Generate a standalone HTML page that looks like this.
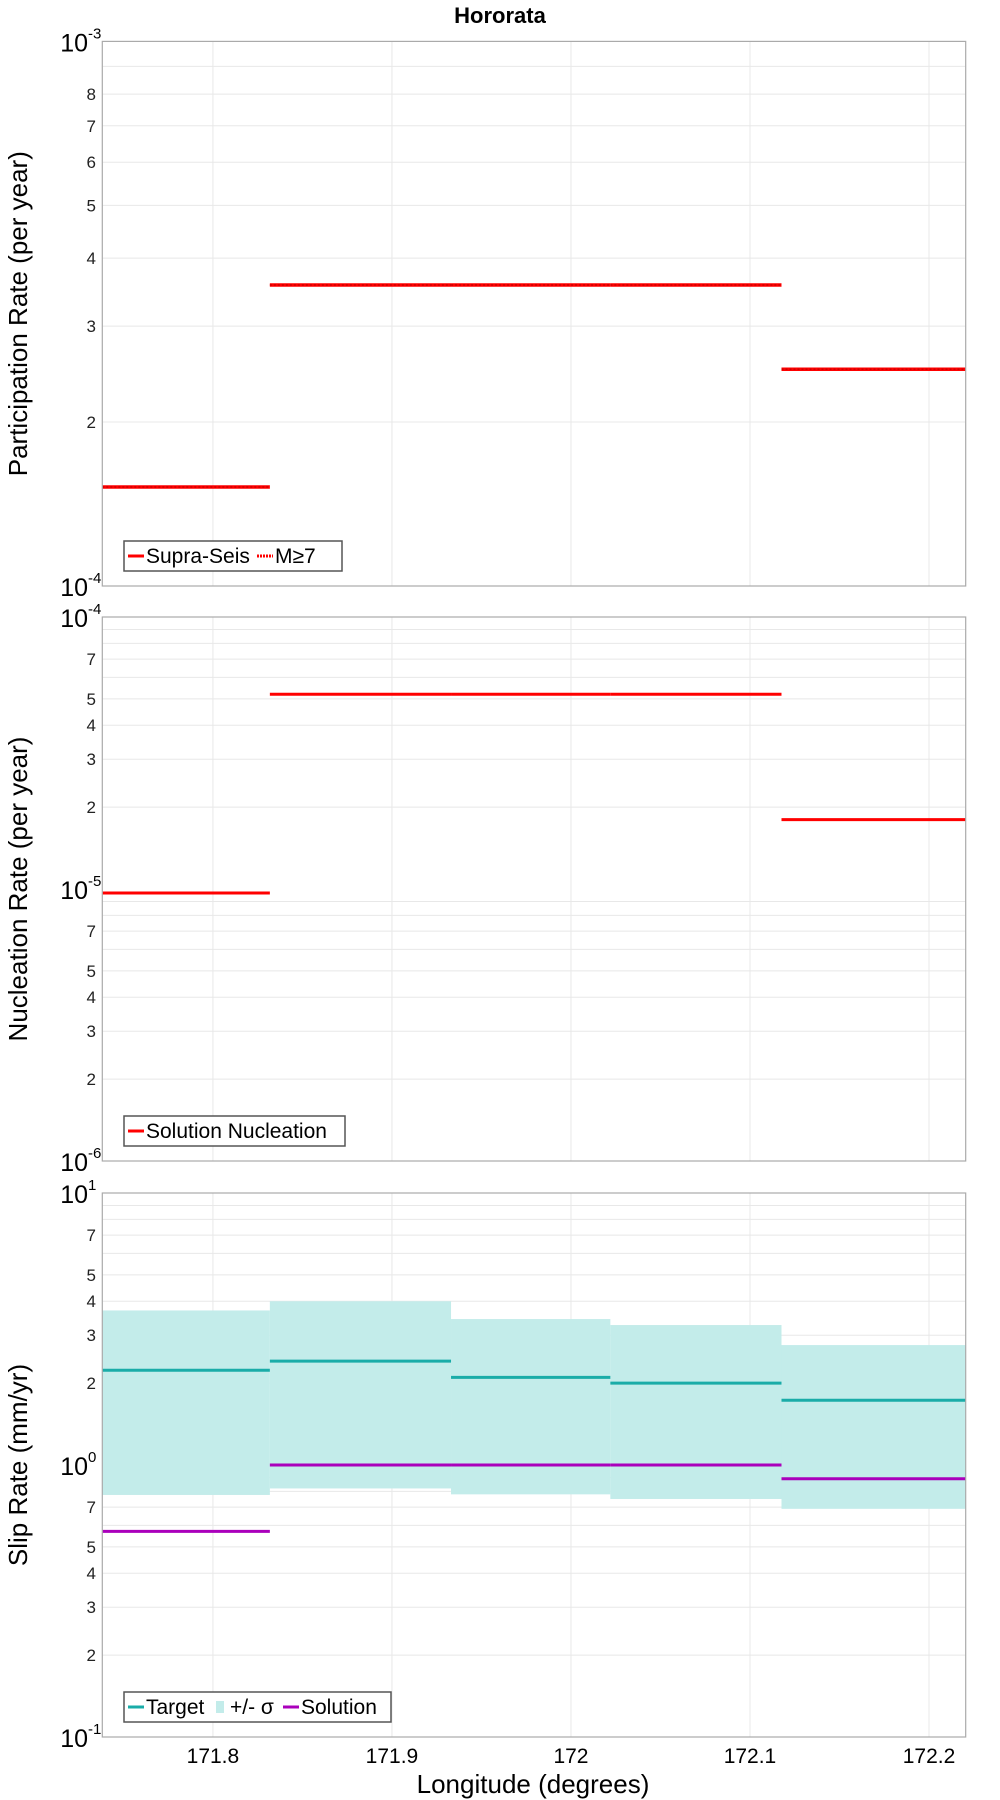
<!DOCTYPE html>
<html><head><meta charset="utf-8"><style>
html,body{margin:0;padding:0;background:#fff;}
svg{display:block;font-family:"Liberation Sans","DejaVu Sans",sans-serif;}
</style></head><body>
<svg id="chart" width="1000" height="1800" viewBox="0 0 1000 1800" xmlns="http://www.w3.org/2000/svg">
<text x="500" y="23" text-anchor="middle" font-size="22" font-weight="bold">Hororata</text>
<text x="533" y="1793" text-anchor="middle" font-size="26">Longitude (degrees)</text>
</svg>
<script>
const segEdges = [171.7382, 171.8318, 171.933, 172.022, 172.1176, 172.2205];
const xTicks = [171.8, 171.9, 172.0, 172.1, 172.2];
const xTickLabels = ["171.8", "171.9", "172", "172.1", "172.2"];
const partSupra = [1.52e-4, 3.57e-4, 3.57e-4, 3.57e-4, 2.50e-4];
const partM7 = [1.52e-4, 3.57e-4, 3.57e-4, 3.57e-4, 2.50e-4];
const nuclSol = [9.67e-6, 5.2e-5, 5.2e-5, 5.2e-5, 1.8e-5];
const slipTarget = [2.23, 2.41, 2.10, 2.0, 1.73];
const slipUpper = [3.7, 4.0, 3.44, 3.27, 2.76];
const slipLower = [0.776, 0.82, 0.78, 0.75, 0.69];
const slipSol = [0.57, 1.0, 1.0, 1.0, 0.89];

const NS = "http://www.w3.org/2000/svg";
const svg = document.getElementById("chart");
const L = 102.3, R = 965.7;
const xMin = segEdges[0], xMax = segEdges[segEdges.length-1];
function X(v){ return L + (v - xMin) / (xMax - xMin) * (R - L); }
function mk(tag, attrs, parent){ const e = document.createElementNS(NS, tag); for (const k in attrs) e.setAttribute(k, attrs[k]); (parent||svg).appendChild(e); return e; }

function panel(cfg){
  const g = mk("g", {});
  
  
  const Y = v => cfg.bot - (Math.log10(v) - cfg.lo) / (cfg.hi - cfg.lo) * (cfg.bot - cfg.top);
  for (let d = cfg.lo; d < cfg.hi; d++) {
    for (let m = 2; m <= 9; m++) {
      const y = Y(m * Math.pow(10, d));
      const gl = mk("line", {x1:L, x2:R, y1:y, y2:y, stroke:"#e8e8e8", "stroke-width":1}, g);
      
      
      if (cfg.minorLabels.includes(m)) {
        const t = mk("text", {x:96, y:y+6, "text-anchor":"end", "font-size":17, fill:"#222"}, g);
        
        
        t.textContent = String(m);
      }
    }
  }
  for (let d = cfg.lo; d <= cfg.hi; d++) {
    const y = Y(Math.pow(10, d));
    const t = mk("text", {x:88, y:y+10, "text-anchor":"end", "font-size":25}, g);
    
    
    t.textContent = "10";
    const s = mk("text", {x:88, y:y-3, "text-anchor":"start", "font-size":15}, g);
    
    
    s.textContent = String(d);
  }
  xTicks.forEach((v) => {
    const gl = mk("line", {x1:X(v), x2:X(v), y1:cfg.top, y2:cfg.bot, stroke:"#e8e8e8", "stroke-width":1}, g);
    
    
  });
  cfg.draw(g, Y);
  const fr = mk("rect", {x:L, y:cfg.top, width:R-L, height:cfg.bot-cfg.top, fill:"none", stroke:"#aaa", "stroke-width":1.2}, g);
  
  
  const cy = (cfg.top + cfg.bot) / 2;
  const yt = mk("text", {x:0, y:0, transform:`translate(27,${cy}) rotate(-90)`, "text-anchor":"middle", "font-size":26}, g);
  
  
  yt.textContent = cfg.ytitle;
  const lg = mk("g", {}, g);
  
  
  const lb = mk("rect", {x:124, y:cfg.legY, width:cfg.legW, height:30, fill:"#fff", stroke:"#555", "stroke-width":1.5}, lg);
  
  
  let lx = 128;
  cfg.legend.forEach(it => {
    let sw;
    if (it.type === "band") sw = mk("rect", {x:lx, y:cfg.legY+9, width:8, height:12, fill:it.color}, lg);
    else sw = mk("line", {x1:lx, x2:lx+16, y1:cfg.legY+15, y2:cfg.legY+15, stroke:it.color, "stroke-width":3, "stroke-dasharray":it.dash||"none"}, lg);
    
    
    lx += it.type === "band" ? 14 : 18;
    const t = mk("text", {x:lx, y:cfg.legY+22, "font-size":21}, lg);
    
    
    t.textContent = it.label;
    lx += it.w;
  });
}
function steps(g, Y, arr, color, w, dash, name){
  arr.forEach((v, i) => {
    const ln = mk("line", {x1:X(segEdges[i]), x2:X(segEdges[i+1]), y1:Y(v), y2:Y(v), stroke:color, "stroke-width":w, "stroke-dasharray":dash||"none"}, g);
    
    
  });
}
panel({name:"participation-panel", top:41.4, bot:586, lo:-4, hi:-3, minorLabels:[2,3,4,5,6,7,8],
  ytitle:"Participation Rate (per year)", legY:541, legW:218,
  legend:[{label:"Supra-Seis", color:"#f00", w:111},{label:"M≥7", color:"#f00", dash:"2,1", w:40}],
  draw:(g,Y)=>{ steps(g,Y,partSupra,"#ff0000",3.5,null,"supra-seis-line"); steps(g,Y,partM7,"#cc0000",1.5,"2,2","m7-line"); }});
panel({name:"nucleation-panel", top:617, bot:1161, lo:-6, hi:-4, minorLabels:[2,3,4,5,7],
  ytitle:"Nucleation Rate (per year)", legY:1116, legW:221,
  legend:[{label:"Solution Nucleation", color:"#f00", w:180}],
  draw:(g,Y)=>{ steps(g,Y,nuclSol,"#ff0000",3,null,"nucleation-line"); }});
panel({name:"slip-rate-panel", top:1193, bot:1737, lo:-1, hi:1, minorLabels:[2,3,4,5,7],
  ytitle:"Slip Rate (mm/yr)", legY:1692, legW:267,
  legend:[{label:"Target", color:"#1aaca8", w:70},{label:"+/- σ", type:"band", color:"#c3ecea", w:53},{label:"Solution", color:"#aa00bb", w:90}],
  draw:(g,Y)=>{
    slipUpper.forEach((u,i)=>{
      const r = mk("rect", {x:X(segEdges[i]), y:Y(u), width:X(segEdges[i+1])-X(segEdges[i]), height:Y(slipLower[i])-Y(u), fill:"#c3ecea"}, g);
      
      
    });
    steps(g,Y,slipTarget,"#1aaca8",3,null,"target-line");
    steps(g,Y,slipSol,"#aa00bb",3,null,"solution-line");
  }});
xTicks.forEach((v,i)=>{
  const t = mk("text", {x:X(v), y:1763, "text-anchor":"middle", "font-size":21});
  
  
  t.textContent = xTickLabels[i];
});
</script>
</body></html>
